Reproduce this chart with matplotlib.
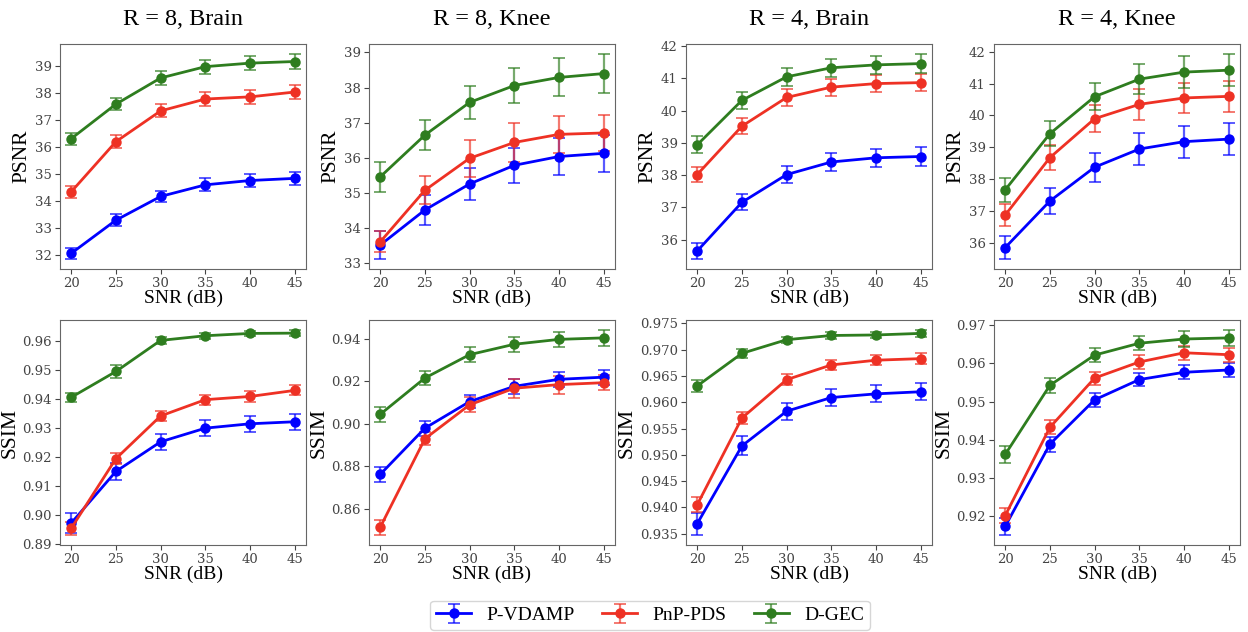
import matplotlib
matplotlib.use("Agg")
import matplotlib.pyplot as plt
from matplotlib.ticker import MultipleLocator

# data
snr = [20, 25, 30, 35, 40, 45]
methods = ["P-VDAMP", "PnP-PDS", "D-GEC"]
colors = ["#0000ff", "#ee3124", "#2e7d1f"]
titles = ["R = 8, Brain", "R = 8, Knee", "R = 4, Brain", "R = 4, Knee"]

# PSNR means / errors, per panel: [P-VDAMP, PnP-PDS, D-GEC]
psnr_r8_brain = [[32.05, 33.28, 34.16, 34.59, 34.75, 34.83],
                 [34.33, 36.19, 37.33, 37.77, 37.85, 38.03],
                 [36.30, 37.58, 38.55, 38.97, 39.10, 39.16]]
psnr_r8_brain_err = [[0.20, 0.22, 0.22, 0.24, 0.25, 0.24],
                     [0.22, 0.24, 0.24, 0.26, 0.27, 0.27],
                     [0.22, 0.22, 0.25, 0.26, 0.27, 0.27]]
psnr_r8_knee = [[33.52, 34.52, 35.26, 35.79, 36.04, 36.13],
                [33.61, 35.08, 35.99, 36.44, 36.67, 36.71],
                [35.46, 36.65, 37.58, 38.06, 38.29, 38.40]]
psnr_r8_knee_err = [[0.39, 0.42, 0.46, 0.50, 0.52, 0.52],
                    [0.30, 0.40, 0.52, 0.56, 0.53, 0.50],
                    [0.43, 0.43, 0.48, 0.51, 0.54, 0.55]]
psnr_r4_brain = [[35.65, 37.16, 38.02, 38.41, 38.54, 38.58],
                 [38.02, 39.52, 40.41, 40.73, 40.84, 40.87],
                 [38.94, 40.32, 41.05, 41.33, 41.42, 41.46]]
psnr_r4_brain_err = [[0.24, 0.25, 0.26, 0.27, 0.28, 0.28],
                     [0.23, 0.24, 0.26, 0.26, 0.27, 0.27],
                     [0.26, 0.27, 0.28, 0.28, 0.29, 0.29]]
psnr_r4_knee = [[35.86, 37.32, 38.38, 38.95, 39.18, 39.26],
                [36.88, 38.68, 39.90, 40.35, 40.55, 40.60],
                [37.67, 39.43, 40.59, 41.14, 41.36, 41.42]]
psnr_r4_knee_err = [[0.35, 0.40, 0.45, 0.49, 0.50, 0.51],
                    [0.35, 0.38, 0.43, 0.48, 0.48, 0.48],
                    [0.38, 0.40, 0.42, 0.47, 0.49, 0.50]]

# SSIM means / errors
ssim_r8_brain = [[0.8973, 0.9151, 0.9253, 0.9300, 0.9315, 0.9322],
                 [0.8955, 0.9195, 0.9342, 0.9398, 0.9409, 0.9430],
                 [0.9406, 0.9495, 0.9602, 0.9618, 0.9626, 0.9627]]
ssim_r8_brain_err = [[0.0035, 0.0030, 0.0028, 0.0028, 0.0028, 0.0027],
                     [0.0022, 0.0018, 0.0016, 0.0017, 0.0018, 0.0017],
                     [0.0015, 0.0022, 0.0012, 0.0010, 0.0010, 0.0010]]
ssim_r8_knee = [[0.8762, 0.8980, 0.9105, 0.9177, 0.9210, 0.9220],
                [0.8513, 0.8930, 0.9090, 0.9168, 0.9185, 0.9194],
                [0.9045, 0.9216, 0.9326, 0.9375, 0.9398, 0.9405]]
ssim_r8_knee_err = [[0.0035, 0.0035, 0.0030, 0.0035, 0.0036, 0.0036],
                    [0.0035, 0.0030, 0.0036, 0.0045, 0.0042, 0.0036],
                    [0.0035, 0.0035, 0.0035, 0.0036, 0.0036, 0.0036]]
ssim_r4_brain = [[0.9369, 0.9517, 0.9583, 0.9609, 0.9616, 0.9620],
                 [0.9405, 0.9570, 0.9643, 0.9671, 0.9680, 0.9683],
                 [0.9631, 0.9693, 0.9719, 0.9727, 0.9728, 0.9731]]
ssim_r4_brain_err = [[0.0021, 0.0018, 0.0016, 0.0016, 0.0016, 0.0016],
                     [0.0014, 0.0012, 0.0010, 0.0010, 0.0010, 0.0010],
                     [0.0012, 0.0008, 0.0006, 0.0006, 0.0006, 0.0006]]
ssim_r4_knee = [[0.9174, 0.9389, 0.9505, 0.9558, 0.9577, 0.9583],
                [0.9202, 0.9433, 0.9562, 0.9604, 0.9628, 0.9623],
                [0.9362, 0.9543, 0.9622, 0.9653, 0.9664, 0.9667]]
ssim_r4_knee_err = [[0.0022, 0.0020, 0.0018, 0.0018, 0.0018, 0.0018],
                    [0.0020, 0.0018, 0.0017, 0.0018, 0.0018, 0.0018],
                    [0.0022, 0.0020, 0.0018, 0.0019, 0.0020, 0.0020]]

psnr_panels = [(psnr_r8_brain, psnr_r8_brain_err), (psnr_r8_knee, psnr_r8_knee_err),
               (psnr_r4_brain, psnr_r4_brain_err), (psnr_r4_knee, psnr_r4_knee_err)]
ssim_panels = [(ssim_r8_brain, ssim_r8_brain_err), (ssim_r8_knee, ssim_r8_knee_err),
               (ssim_r4_brain, ssim_r4_brain_err), (ssim_r4_knee, ssim_r4_knee_err)]
psnr_steps = [1, 1, 1, 1]
ssim_steps = [0.01, 0.02, 0.005, 0.01]

label_font = "Liberation Serif"
plt.rcParams["font.family"] = "DejaVu Serif"

fig = plt.figure(figsize=(12.48, 6.32), dpi=100)
W, H = 1248.0, 632.0
lefts = [60, 369, 686, 994]
width = 246
rows = [(44, 269, "PSNR", psnr_panels, psnr_steps),
        (320, 545, "SSIM", ssim_panels, ssim_steps)]

handles = []
for r, (top, bot, ylab, panels, steps) in enumerate(rows):
    for c, (means, errs) in enumerate(panels):
        ax = fig.add_axes([lefts[c] / W, 1 - bot / H, width / W, (bot - top) / H])
        for k in range(3):
            h = ax.errorbar(snr, means[k], yerr=errs[k], color=colors[k], lw=2,
                            marker="o", ms=6.5, capsize=4, elinewidth=1.6,
                            capthick=1.4, label=methods[k])
            for bar in h[2]:
                bar.set_alpha(0.65)
            for cap in h[1]:
                cap.set_alpha(0.65)
            if r == 0 and c == 0:
                handles.append(h)
        ax.set_xticks(snr)
        ax.yaxis.set_major_locator(MultipleLocator(steps[c]))
        ax.set_xlabel("SNR (dB)", family=label_font, fontsize=14, labelpad=-0.5)
        ax.set_ylabel(ylab, family=label_font, fontsize=15.5, labelpad=2)
        ax.tick_params(labelsize=9.5, colors="#444444", length=3.5, pad=2.5)
        for s in ax.spines.values():
            s.set_color("#666666")
        if r == 0:
            ax.set_title(titles[c], family=label_font, fontsize=17.5, pad=14)

fig.legend(handles, methods, loc="lower center", bbox_to_anchor=(0.521, -0.012),
           ncol=3, prop={"family": label_font, "size": 14}, frameon=True,
           columnspacing=1.4, handlelength=1.8, borderpad=0.3,
           edgecolor="#cccccc")

fig.savefig("out.png", dpi=100)
